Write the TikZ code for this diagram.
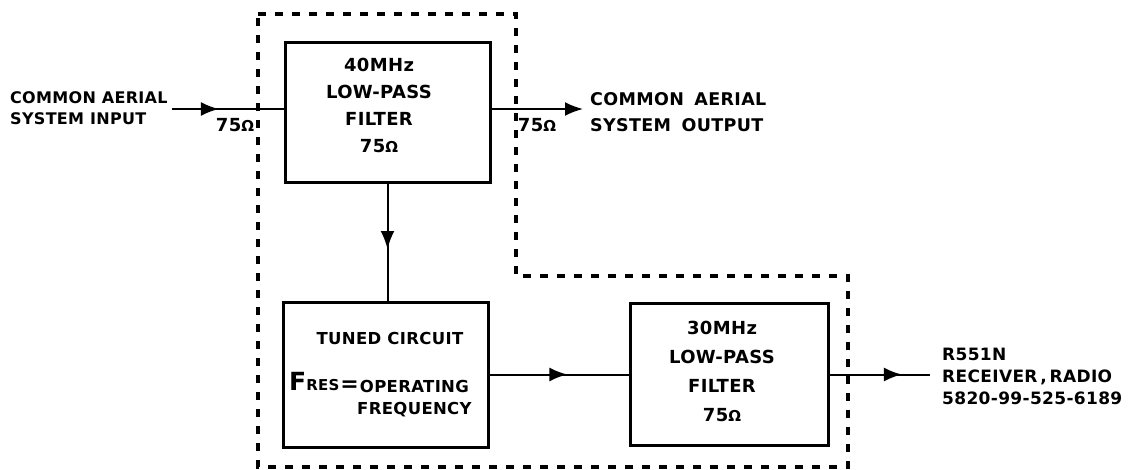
\documentclass[tikz,border=0pt]{standalone}
\usepackage{fontspec}
\setmainfont{DejaVu Sans}
\newfontfamily\lbl{DejaVu Sans}[LetterSpace=2]
\usetikzlibrary{arrows.meta,decorations.markings}
\newcommand\ohmsym{{\fontsize{15}{15}\selectfont Ω}}
\begin{document}
\begin{tikzpicture}[x=1pt,y=-1pt,
  blk/.style={draw, line width=3pt, inner sep=0pt},
  btxt/.style={font=\lbl\bfseries\fontsize{18}{27}\selectfont, align=center, inner sep=0pt},
  ltxt/.style={font=\lbl\bfseries\fontsize{16}{21}\selectfont, align=left, inner sep=0pt},
  conn/.style={line width=2pt},
  tipA/.style={-{Latex[length=18pt,width=14pt]}},
  midarrow/.style={postaction={decorate}, decoration={markings, mark=at position #1 with {\arrow{Latex[length=18pt,width=14pt]}}}},
  boundary/.style={line width=3.5pt, dash pattern=on 8pt off 9pt}]
\useasboundingbox (0,0) rectangle (1141,469);
% dashed enclosure
\draw[boundary] (258,14) -- (516,14) -- (516,276) -- (848,276) -- (848,467) -- (258,467) -- cycle;
% blocks
\node[blk, minimum width=205pt, minimum height=140pt] (f40) at (387.5,112) {};
\node[btxt] (f40t) at (379,105) {40MHz\\LOW-PASS\\FILTER\\75\ohmsym};
\node[blk, minimum width=205pt, minimum height=145pt] (tc) at (385.5,374.5) {};
\node[btxt, font=\lbl\bfseries\fontsize{16.5}{20}\selectfont] (tct) at (390,338) {TUNED CIRCUIT};
\node[inner sep=0pt, anchor=base west, font=\lbl\bfseries] (fres) at (289,390) {{\fontsize{25}{25}\selectfont F}{\fontsize{15}{15}\selectfont RES}\hspace{1pt}{\fontsize{22}{22}\selectfont\raisebox{-1pt}{=}}};
\node[btxt, font=\lbl\bfseries\fontsize{16.5}{22}\selectfont, anchor=west] (opf) at (357,399) {OPERATING\\FREQUENCY};
\node[blk, minimum width=198pt, minimum height=142pt] (f30) at (729,374.5) {};
\node[btxt, font=\lbl\bfseries\fontsize{18}{29}\selectfont] (f30t) at (722,371) {30MHz\\LOW-PASS\\FILTER\\75\ohmsym};
% labels
\node[ltxt, anchor=west] (inl) at (10,108) {COMMON AERIAL\\SYSTEM INPUT};
\node[ltxt, anchor=west, font=\lbl\bfseries\fontsize{17.5}{26}\selectfont] (outl) at (590,112) {COMMON\hspace{4pt} AERIAL\\SYSTEM\hspace{4pt} OUTPUT};
\node[ltxt, anchor=west, font=\lbl\bfseries\fontsize{17}{22}\selectfont] (rxl) at (942,376) {R551N\\RECEIVER\,,\,RADIO\\5820-99-525-6189};
\node[btxt, font=\lbl\bfseries\fontsize{18}{18}\selectfont] (z1) at (235,125) {75\ohmsym};
\node[btxt, font=\lbl\bfseries\fontsize{18}{18}\selectfont] (z2) at (537,125) {75\ohmsym};
% connectors
\coordinate (inS) at (172,109);
\coordinate (outE) at (583,109);
\coordinate (rxE) at (930,376);
\draw[conn, midarrow=0.42] (inS) -- (inS -| f40.west);
\draw[conn, tipA] (f40.east |- outE) -- (outE);
\draw[conn, midarrow=0.56] (f40.south) -- (f40.south |- tc.north);
\draw[conn, midarrow=0.56] (tc.east) -- (f30.west);
\draw[conn, midarrow=0.72] (f30.east) -- (f30.east -| rxE);
\end{tikzpicture}
\end{document}
